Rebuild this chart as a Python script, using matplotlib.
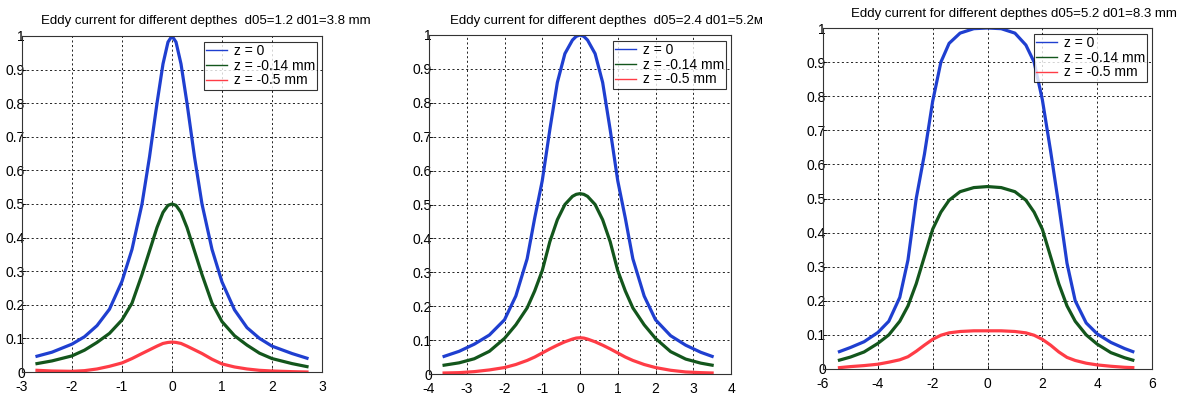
import numpy as np
import matplotlib
matplotlib.use("Agg")
import matplotlib.pyplot as plt

plt.rcParams['font.family'] = ['Liberation Sans', 'DejaVu Sans']

# panel 1: d05=1.2 d01=3.8 mm
x1 = [-2.7, -2.4, -2.0, -1.75, -1.5, -1.25, -1.0, -0.8, -0.6, -0.45, -0.3, -0.18, -0.08, 0.0,
      0.08, 0.18, 0.3, 0.45, 0.6, 0.8, 1.0, 1.25, 1.5, 1.75, 2.0, 2.4, 2.7]
blue1 = [0.047, 0.059, 0.083, 0.105, 0.138, 0.187, 0.27, 0.365, 0.5, 0.64, 0.8, 0.917, 0.982, 1.0,
         0.982, 0.917, 0.8, 0.64, 0.5, 0.365, 0.268, 0.185, 0.132, 0.1, 0.077, 0.055, 0.041]
green1 = [0.025, 0.033, 0.048, 0.065, 0.088, 0.115, 0.155, 0.205, 0.29, 0.36, 0.43, 0.475, 0.496, 0.5,
          0.496, 0.475, 0.43, 0.36, 0.29, 0.205, 0.15, 0.108, 0.08, 0.056, 0.04, 0.025, 0.016]
red1 = [0.005, 0.003, 0.002, 0.004, 0.009, 0.017, 0.027, 0.04, 0.055, 0.066, 0.077, 0.085, 0.088, 0.089,
        0.088, 0.085, 0.077, 0.066, 0.055, 0.038, 0.024, 0.015, 0.009, 0.005, 0.003, 0.001, 0.0]

# panel 2: d05=2.4 d01=5.2
x2 = [-3.6, -3.2, -2.8, -2.4, -2.0, -1.7, -1.4, -1.2, -1.0, -0.8, -0.6, -0.4, -0.2, -0.1, 0.0,
      0.1, 0.2, 0.4, 0.6, 0.8, 1.0, 1.2, 1.4, 1.7, 2.0, 2.4, 2.8, 3.2, 3.5]
blue2 = [0.052, 0.067, 0.088, 0.115, 0.16, 0.23, 0.34, 0.46, 0.57, 0.72, 0.86, 0.945, 0.985, 0.996, 1.0,
         0.996, 0.985, 0.945, 0.86, 0.72, 0.57, 0.46, 0.34, 0.23, 0.16, 0.113, 0.085, 0.064, 0.052]
green2 = [0.026, 0.033, 0.045, 0.067, 0.105, 0.145, 0.195, 0.245, 0.305, 0.39, 0.455, 0.5, 0.524, 0.53, 0.532,
          0.53, 0.524, 0.5, 0.455, 0.39, 0.305, 0.245, 0.195, 0.145, 0.105, 0.066, 0.044, 0.032, 0.026]
red2 = [0.003, 0.004, 0.007, 0.012, 0.019, 0.028, 0.04, 0.05, 0.062, 0.074, 0.085, 0.095, 0.103, 0.106, 0.107,
        0.106, 0.103, 0.095, 0.085, 0.074, 0.062, 0.05, 0.04, 0.028, 0.019, 0.011, 0.006, 0.004, 0.003]

# panel 3: d05=5.2 d01=8.3 mm
x3 = [-5.4, -5.0, -4.5, -4.0, -3.6, -3.2, -2.9, -2.6, -2.3, -2.0, -1.7, -1.4, -1.0, -0.5, 0.0,
      0.5, 1.0, 1.4, 1.7, 2.0, 2.3, 2.6, 2.9, 3.2, 3.6, 4.0, 4.5, 5.0, 5.3]
blue3 = [0.051, 0.063, 0.08, 0.107, 0.14, 0.21, 0.32, 0.5, 0.63, 0.785, 0.9, 0.955, 0.985, 0.998, 1.0,
         0.998, 0.985, 0.95, 0.9, 0.79, 0.64, 0.48, 0.31, 0.2, 0.135, 0.103, 0.078, 0.06, 0.051]
green3 = [0.026, 0.035, 0.05, 0.075, 0.1, 0.14, 0.185, 0.25, 0.33, 0.41, 0.46, 0.495, 0.52, 0.532, 0.535,
          0.532, 0.52, 0.495, 0.46, 0.41, 0.33, 0.25, 0.185, 0.14, 0.1, 0.073, 0.048, 0.033, 0.026]
red3 = [0.004, 0.007, 0.01, 0.014, 0.02, 0.027, 0.036, 0.052, 0.07, 0.087, 0.099, 0.106, 0.11, 0.112, 0.112,
        0.112, 0.11, 0.106, 0.099, 0.087, 0.07, 0.05, 0.034, 0.025, 0.017, 0.012, 0.008, 0.005, 0.004]

titles = ["Eddy current for different depthes  d05=1.2 d01=3.8 mm",
          "Eddy current for different depthes  d05=2.4 d01=5.2м",
          "Eddy current for different depthes d05=5.2 d01=8.3 mm"]
labels = ["z = 0", "z = -0.14 mm", "z = -0.5 mm"]
colors = ["#1f3fd0", "#13561c", "#ff3c46"]

W, H = 1183, 396
fig = plt.figure(figsize=(W / 100, H / 100), dpi=100)

# pixel boxes: left, right, top, bottom
boxes = [(22, 322, 36, 372), (429, 731, 35, 374), (823, 1152, 28, 369)]
xlims = [(-3, 3), (-4, 4), (-6, 6)]
xticks = [np.arange(-3, 4, 1), np.arange(-4, 5, 1), np.arange(-6, 7, 2)]
title_pos = [(206, 21), (606, 21), (1014, 14)]
data = [(x1, blue1, green1, red1), (x2, blue2, green2, red2), (x3, blue3, green3, red3)]

for i in range(3):
    l, r, t, b = boxes[i]
    ax = fig.add_axes([l / W, (H - b) / H, (r - l) / W, (b - t) / H])
    x, yb, yg, yr = data[i]
    for y, c, lab in zip((yb, yg, yr), colors, labels):
        ax.plot(x, y, color=c, lw=2.3, label=lab, solid_joinstyle='round')
    ax.set_xlim(*xlims[i])
    ax.set_ylim(0, 1)
    ax.set_xticks(xticks[i])
    ax.set_xticklabels([f"{v:g}" for v in xticks[i]])
    yt = np.round(np.arange(0, 1.01, 0.1), 1)
    ax.set_yticks(yt)
    ax.set_yticklabels([f"{v:g}" for v in yt])
    ax.grid(True, color='black', linestyle=(0, (2.5, 3)), linewidth=0.6)
    ax.tick_params(direction='in', length=3, width=0.6, labelsize=10)
    ax.tick_params(axis='y', pad=-2)
    ax.tick_params(axis='x', pad=6)
    for s in ax.spines.values():
        s.set_linewidth(0.8)
        s.set_color('#333333')
    leg = ax.legend(loc='upper right', bbox_to_anchor=(1 - 5 / (r - l), 1 - 6 / (b - t)),
                    borderaxespad=0, fontsize=10, frameon=True, fancybox=False,
                    handlelength=1.5, handletextpad=0.5, labelspacing=0.05,
                    borderpad=0.15)
    leg.get_frame().set_edgecolor('black')
    leg.get_frame().set_linewidth(0.8)
    for ln in leg.get_lines():
        ln.set_linewidth(1.0)
    fig.text(title_pos[i][0] / W, 1 - title_pos[i][1] / H, titles[i],
             ha='center', va='center', fontsize=9.5)

fig.savefig("out.png", dpi=100)
